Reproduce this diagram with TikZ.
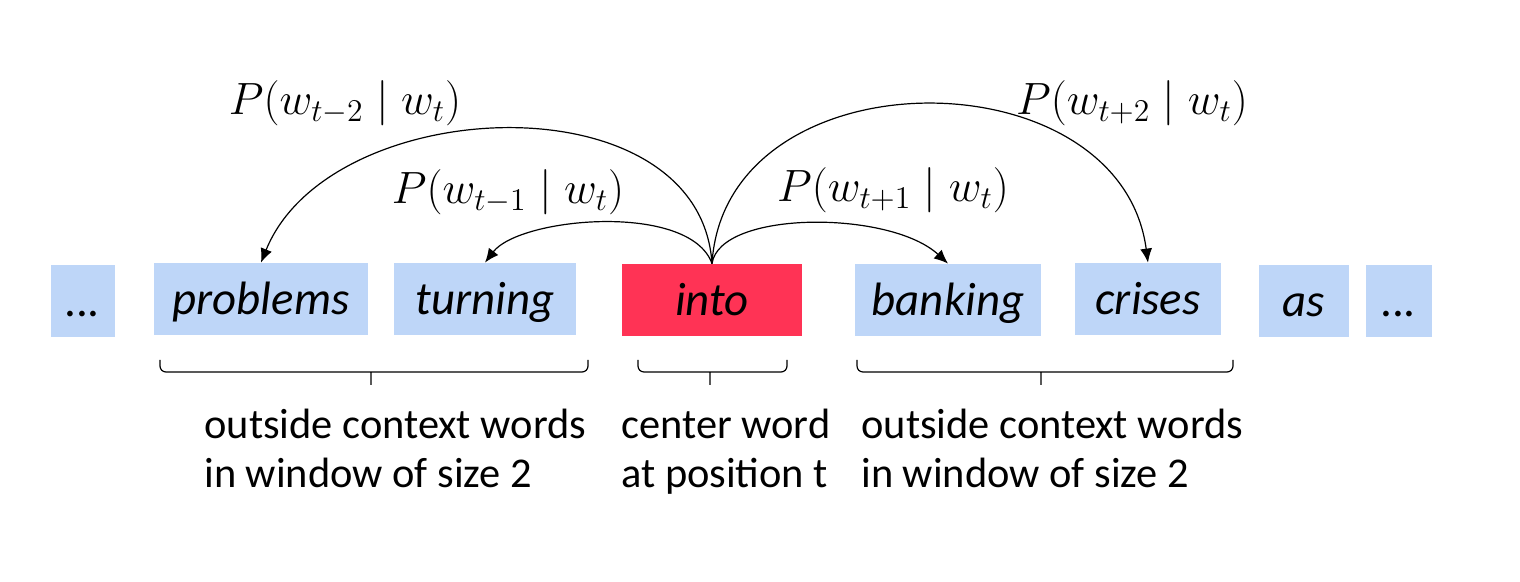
\RequirePackage{fix-cm}
\documentclass[tikz,border=0pt]{standalone}
\usepackage{amsmath}
\usepackage{fontspec}
\setmainfont{Carlito}
\usepackage{tikz}
\usetikzlibrary{arrows.meta}
\definecolor{ctxblue}{RGB}{190,214,248}
\definecolor{centerred}{RGB}{255,51,85}

\begin{document}
\begin{tikzpicture}[x=0.5pt,y=0.5pt,>={Latex[length=7pt,width=6pt]},
  word/.style={fill=ctxblue,minimum height=36pt,inner sep=0pt,text height=16pt,text depth=0pt,font=\fontsize{23.4}{28}\selectfont\itshape},
  prob/.style={font=\fontsize{22.6}{27}\selectfont},
  window/.style={line width=0.6pt,rounded corners=3pt},
  note/.style={align=left,inner sep=0pt,anchor=north west,font=\fontsize{21.2}{24.5}\selectfont}]
  \useasboundingbox (0,0) rectangle (1520,582);
  % the sentence
  \node[word,minimum width=32pt] (dotsL) at (83,281) {...};
  \node[word,minimum width=107pt] (problems) at (261,283) {problems};
  \node[word,minimum width=91pt] (turning) at (485,283) {turning};
  \node[word,fill=centerred,minimum width=90pt] (into) at (712,282) {into};
  \node[word,minimum width=93pt] (banking) at (948,282) {banking};
  \node[word,minimum width=73pt] (crises) at (1148,283) {crises};
  \node[word,minimum width=45pt] (as) at (1304,281) {as};
  \node[word,minimum width=33pt] (dotsR) at (1399,281) {...};
  % probabilities
  \draw[->,line width=0.6pt] (into.north) .. controls (700,505) and (330,490) .. (problems.north);
  \draw[->,line width=0.6pt] (into.north) .. controls (690,380) and (520,365) .. (turning.north);
  \draw[->,line width=0.6pt] (into.north) .. controls (720,372) and (890,372) .. (banking.north);
  \draw[->,line width=0.6pt] (into.north) .. controls (725,530) and (1120,530) .. (crises.north);
  \node[prob] (pm2) at (345,479) {$P(w_{t-2}\mid w_t)$};
  \node[prob] (pm1) at (508,390) {$P(w_{t-1}\mid w_t)$};
  \node[prob] (pp1) at (893,392) {$P(w_{t+1}\mid w_t)$};
  \node[prob] (pp2) at (1132,479) {$P(w_{t+2}\mid w_t)$};
  % windows
  \draw[window] (160,222) |- (371,210) -| (588,222) (371,210) -- (371,197);
  \draw[window] (638,222) |- (710,210) -| (787,222) (710,210) -- (710,197);
  \draw[window] (857,222) |- (1041,210) -| (1233,222) (1041,210) -- (1041,197);
  \node[note] (leftnote) at (204,173) {outside context words\\in window of size 2};
  \node[note] (centernote) at (621,173) {center word\\at position t};
  \node[note] (rightnote) at (861,173) {outside context words\\in window of size 2};
\end{tikzpicture}
\end{document}
